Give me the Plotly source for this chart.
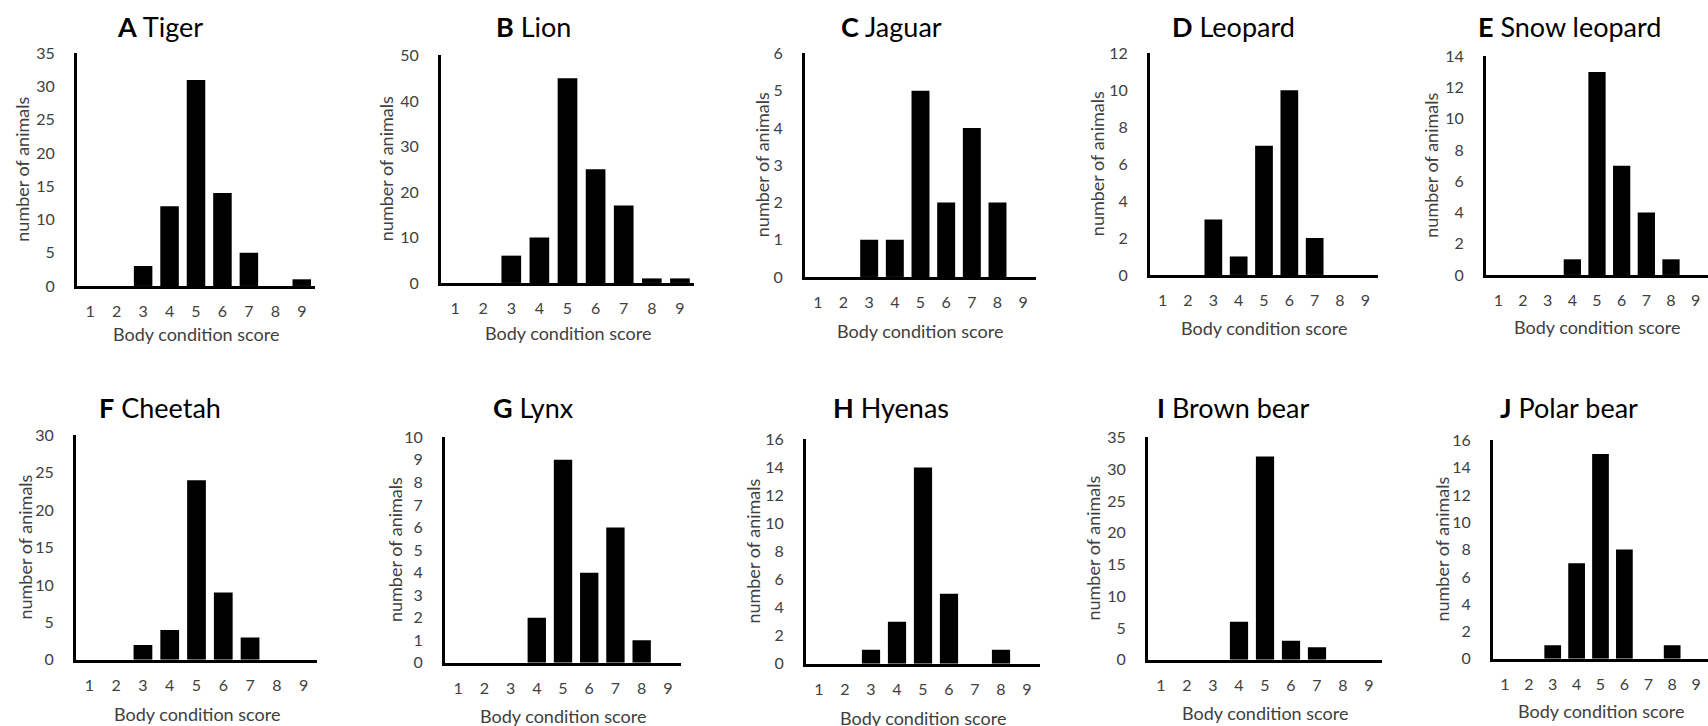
import plotly.graph_objects as go

# ---------------- data ----------------
scores = [1, 2, 3, 4, 5, 6, 7, 8, 9]
letters = ["A", "B", "C", "D", "E", "F", "G", "H", "I", "J"]
species = ["Tiger", "Lion", "Jaguar", "Leopard", "Snow leopard",
           "Cheetah", "Lynx", "Hyenas", "Brown bear", "Polar bear"]
tiger = [0, 0, 3, 12, 31, 14, 5, 0, 1]
lion = [0, 0, 6, 10, 45, 25, 17, 1, 1]
jaguar = [0, 0, 1, 1, 5, 2, 4, 2, 0]
leopard = [0, 0, 3, 1, 7, 10, 2, 0, 0]
snow_leopard = [0, 0, 0, 1, 13, 7, 4, 1, 0]
cheetah = [0, 0, 2, 4, 24, 9, 3, 0, 0]
lynx = [0, 0, 0, 2, 9, 4, 6, 1, 0]
hyenas = [0, 0, 1, 3, 14, 5, 0, 1, 0]
brown_bear = [0, 0, 0, 6, 32, 3, 2, 0, 0]
polar_bear = [0, 0, 1, 7, 15, 8, 0, 1, 0]
y_max = [35, 50, 6, 12, 14, 30, 10, 16, 35, 16]
y_step = [5, 10, 1, 2, 2, 5, 1, 2, 5, 2]
x_title = "Body condition score"
y_title = "number of animals"

series = [tiger, lion, jaguar, leopard, snow_leopard,
          cheetah, lynx, hyenas, brown_bear, polar_bear]

# ---------------- layout (pixels) ----------------
W, H = 1708, 740
# plot areas: (left, right, top, bottom)
areas = [
    (77, 315, 54, 286), (441, 694, 56, 283), (805, 1036, 54, 277),
    (1150, 1378, 54, 275), (1486, 1708, 57, 275),
    (76, 317, 435, 659), (445, 681, 437, 662), (806, 1040, 439, 663),
    (1148, 1382, 437, 659), (1493, 1708, 440, 658),
]
title_x = [160, 533, 891, 1233, 1569] * 2
title_y = [27] * 5 + [407] * 5
ytitle_x = [22, 386, 762, 1097, 1431, 25, 395, 753, 1093, 1442]
xtitle_y = [334, 333, 331, 328, 327, 713, 715, 717, 712, 710]


def fx(x):
    return x / W


def fy(y):
    # vertical placement calibrated against the photographed page
    p = (y - 10.7) / 0.972
    return 1 - p / H


FONT = "Lato"
GRAY = "#404040"

fig = go.Figure()
annotations = []
for i in range(10):
    n = "" if i == 0 else str(i + 1)
    l, r, t, b = areas[i]
    fig.add_trace(go.Bar(
        x=scores, y=series[i], xaxis="x" + n, yaxis="y" + n,
        marker=dict(color="black", line=dict(width=0)),
        showlegend=False, hoverinfo="x+y",
    ))
    fig.layout["xaxis" + n] = dict(
        domain=[fx(l), fx(r)], anchor="y" + n, range=[0.5, 9.5],
        tickmode="array", tickvals=scores, ticks="", ticklabelstandoff=9,
        showline=True, linewidth=3, linecolor="black",
        showgrid=False, zeroline=False,
        tickfont=dict(family=FONT, size=16, color=GRAY),
    )
    fig.layout["yaxis" + n] = dict(
        domain=[fy(b), fy(t)], anchor="x" + n, range=[0, y_max[i]],
        tickmode="array", tickvals=list(range(0, y_max[i] + 1, y_step[i])),
        ticks="", ticklabelstandoff=16,
        showline=True, linewidth=3, linecolor="black",
        showgrid=False, zeroline=False,
        tickfont=dict(family=FONT, size=16, color=GRAY),
    )
    annotations.append(dict(
        text="<b>%s</b> %s" % (letters[i], species[i]),
        x=fx(title_x[i]), y=fy(title_y[i]), xref="paper", yref="paper",
        xanchor="center", yanchor="middle", showarrow=False,
        font=dict(family=FONT, size=27, color="black"),
    ))
    annotations.append(dict(
        text=x_title, x=fx((l + r) / 2), y=fy(xtitle_y[i]),
        xref="paper", yref="paper", xanchor="center", yanchor="middle",
        showarrow=False, font=dict(family=FONT, size=18, color=GRAY),
    ))
    annotations.append(dict(
        text=y_title, x=fx(ytitle_x[i]), y=fy((t + b) / 2),
        xref="paper", yref="paper", xanchor="center", yanchor="middle",
        textangle=-90, showarrow=False,
        font=dict(family=FONT, size=18, color=GRAY),
    ))

fig.update_layout(
    width=W, height=H, margin=dict(l=0, r=0, t=0, b=0),
    paper_bgcolor="white", plot_bgcolor="white",
    bargap=0.3, annotations=annotations,
    font=dict(family=FONT, color=GRAY),
)

# pin the figure to the window's top-left corner
pin = ("document.documentElement.style.margin='0';"
       "document.body.style.margin='0';"
       "document.body.style.overflow='hidden';"
       "var gd=document.getElementById('{plot_id}');"
       "gd.style.position='fixed';gd.style.left='0px';gd.style.top='0px';")

fig.write_html("out.html", config={"displayModeBar": False}, post_script=pin)
